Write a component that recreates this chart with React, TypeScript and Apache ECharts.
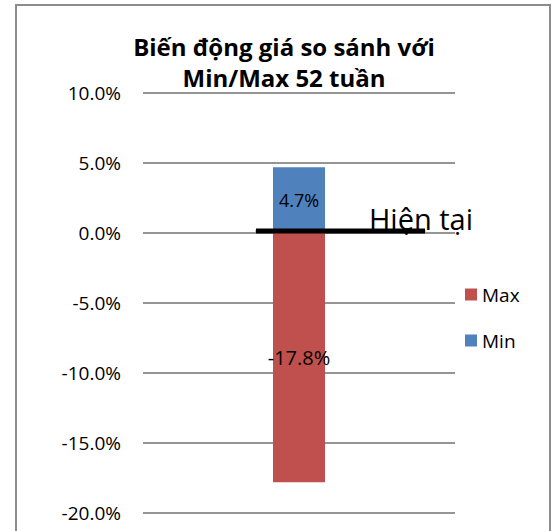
import React, { useEffect, useRef } from "react";
import * as echarts from "echarts";

const titleLines = ["Biến động giá so sánh với", "Min/Max 52 tuần"];
const categories = [""];
const minValues = [0.047];
const maxValues = [-0.178];
const currentLine = [
  [0, 0],
  [1, 0],
];
const currentLabel = "Hiện tại";
const yMin = -0.2;
const yMax = 0.1;
const yInterval = 0.05;

const FONT = "'Open Sans', 'Noto Sans', sans-serif";

export default function App() {
  const ref = useRef<HTMLDivElement>(null);
  useEffect(() => {
    if (!ref.current) return;
    const chart = echarts.init(ref.current, null, { renderer: "svg" });
    const pct = (v: number) => (v * 100).toFixed(1) + "%";
    const top = 93;
    const height = 420;
    chart.setOption({
      animation: false,
      backgroundColor: "#fff",
      textStyle: { fontFamily: FONT },
      title: {
        text: titleLines.join("\n"),
        left: 284,
        textAlign: "center",
        top: 31,
        padding: 0,
        textStyle: {
          fontFamily: FONT,
          fontSize: 24,
          fontWeight: "bold",
          color: "#000",
          lineHeight: 31,
        },
      },
      legend: {
        data: ["Max", "Min"],
        orient: "vertical",
        left: 465,
        top: 285,
        padding: 0,
        itemWidth: 12,
        itemHeight: 12,
        itemGap: 27,
        icon: "rect",
        textStyle: { fontFamily: FONT, fontSize: 19, color: "#000", lineHeight: 18 },
      },
      graphic: [
        {
          type: "rect",
          silent: true,
          z: -10,
          shape: { x: 16, y: 5, width: 534, height: 560 },
          style: { fill: "none", stroke: "#8c8c8c", lineWidth: 2 },
        },
      ],
      grid: [
        { left: 143, top, width: 312, height },
        { left: 273, top, width: 52, height },
        { left: 256, top: top - 2, width: 169, height },
      ],
      xAxis: [
        { gridIndex: 0, type: "category", data: categories, show: false },
        { gridIndex: 1, type: "category", data: categories, show: false },
        { gridIndex: 2, type: "value", min: 0, max: 1, show: false },
      ],
      yAxis: [
        {
          gridIndex: 0,
          type: "value",
          min: yMin,
          max: yMax,
          interval: yInterval,
          axisLine: { show: false },
          axisTick: { show: false },
          axisLabel: {
            formatter: pct,
            fontFamily: FONT,
            fontSize: 19,
            color: "#000",
            margin: 22,
          },
          splitLine: { lineStyle: { color: "#959595", width: 2 } },
        },
        { gridIndex: 1, type: "value", min: yMin, max: yMax, interval: yInterval, show: false, splitLine: { show: false } },
        { gridIndex: 2, type: "value", min: yMin, max: yMax, interval: yInterval, show: false, splitLine: { show: false } },
      ],
      series: [
        {
          name: "Min",
          type: "bar",
          xAxisIndex: 1,
          yAxisIndex: 1,
          stack: "s",
          barWidth: "100%",
          data: minValues,
          itemStyle: { color: "#4F81BD" },
          label: {
            show: true,
            position: "inside",
            formatter: (p: any) => pct(p.value),
            fontFamily: FONT,
            fontSize: 18,
            color: "#000",
          },
          z: 2,
        },
        {
          name: "Max",
          type: "bar",
          xAxisIndex: 1,
          yAxisIndex: 1,
          stack: "s",
          barWidth: "100%",
          data: maxValues,
          itemStyle: { color: "#C0504D" },
          label: {
            show: true,
            position: "inside",
            formatter: (p: any) => pct(p.value),
            fontFamily: FONT,
            fontSize: 20,
            color: "#000",
          },
          z: 2,
        },
        {
          name: currentLabel,
          type: "line",
          xAxisIndex: 2,
          yAxisIndex: 2,
          data: [
            { value: currentLine[0] },
            {
              value: currentLine[1],
              label: {
                show: true,
                position: "top",
                formatter: currentLabel,
                fontFamily: FONT,
                fontSize: 29,
                color: "#000",
                offset: [-4, 7],
              },
            },
          ],
          symbol: "circle",
          symbolSize: 1,
          showSymbol: true,
          itemStyle: { color: "#000" },
          lineStyle: {
            color: "#000",
            width: 5,
          },
          z: 5,
        },
      ],
    });
    return () => chart.dispose();
  }, []);
  return (
    <div
      ref={ref}
      style={{ position: "absolute", left: 0, top: 0, width: 554, height: 531 }}
    />
  );
}
